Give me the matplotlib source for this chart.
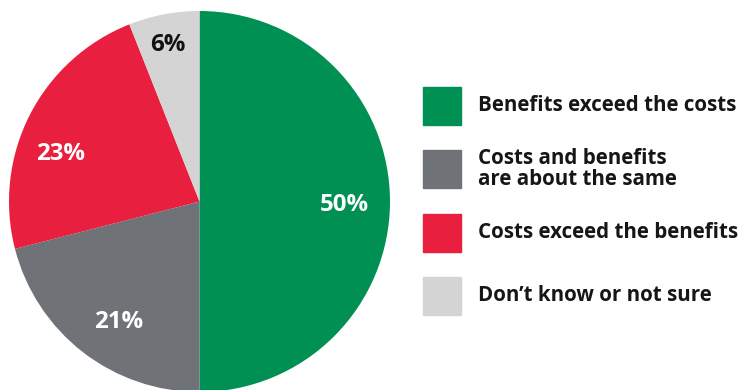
import matplotlib.pyplot as plt
from matplotlib.patches import Rectangle
import numpy as np

# data
labels = ['Benefits exceed the costs', 'Costs and benefits\nare about the same',
          'Costs exceed the benefits', 'Don\u2019t know or not sure']
values = [50, 21, 23, 6]
colors = ['#009054', '#6F7377', '#E81F3E', '#D4D4D4']
text_colors = ['white', 'white', 'white', '#111111']
label_radius = [0.76, 0.76, 0.77, 0.84]
label_shift = [-1.4, 4, 8, 0.6]   # degrees, nudge from wedge middle

plt.rcParams['font.family'] = ['Open Sans', 'DejaVu Sans']

fig = plt.figure(figsize=(7.4, 3.9), dpi=100)
ax = fig.add_axes([9 / 740, -2 / 390, 381 / 740, 381 / 390])
wedges, _ = ax.pie(values, colors=colors, startangle=90, counterclock=False,
                   wedgeprops=dict(linewidth=0))
ax.set_xlim(-1, 1)
ax.set_ylim(-1, 1)
ax.set_aspect('equal')

for w, v, r, s, tc in zip(wedges, values, label_radius, label_shift, text_colors):
    ang = np.deg2rad((w.theta1 + w.theta2) / 2 + s)
    ax.text(r * np.cos(ang), r * np.sin(ang), f'{v}%', ha='center', va='center',
            fontsize=17.3, fontweight='bold', color=tc)

# legend drawn by hand so rows stay evenly spaced
x0, y0, sq, pitch = 423, 87, 38, 63.3
for i, (lab, c) in enumerate(zip(labels, colors)):
    top = y0 + i * pitch
    fig.patches.append(Rectangle((x0 / 740, 1 - (top + sq) / 390), sq / 740, sq / 390,
                                 transform=fig.transFigure, color=c))
    fig.text(478 / 740, 1 - (top + sq / 2) / 390, lab, ha='left', va='center',
             fontsize=14.8, fontweight='bold', color='#161616', linespacing=1.02)

plt.savefig('out.png', dpi=100)
